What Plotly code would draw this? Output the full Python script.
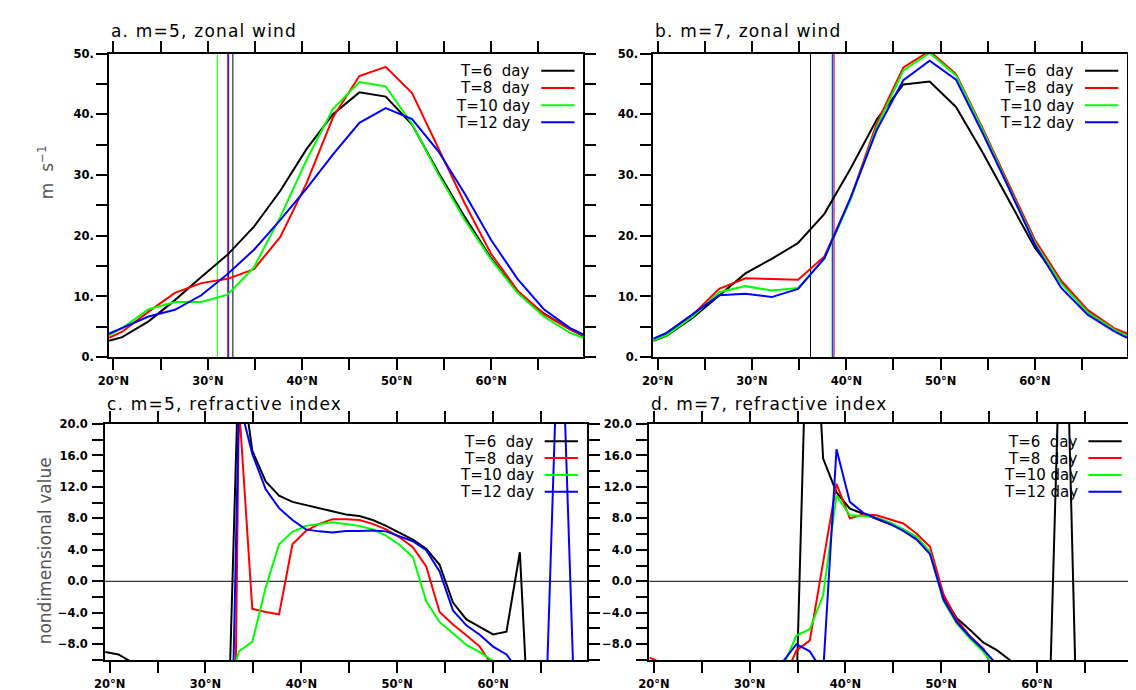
import plotly.graph_objects as go

W, H = 1136, 690

# ---------------- data ----------------
series_names = ["T=6\u00a0 day", "T=8\u00a0 day", "T=10\u00a0day", "T=12\u00a0day"]
series_colors = ["#000000", "#ff0000", "#00ff00", "#0000ff"]

# latitude grid of the zonal-wind panels (Gaussian grid, ends at plot edges)
lat_u = [19.534, 20.930, 23.720, 26.511, 29.302, 32.092, 34.883, 37.674, 40.464, 43.255,
         46.046, 48.836, 51.627, 54.418, 57.209, 59.999, 62.790, 65.580, 68.371, 69.766]

# a. m=5 zonal wind (m s-1)
u5_t6 = [2.7, 3.3, 5.9, 9.4, 13.2, 16.9, 21.5, 27.4, 34.3, 40.0, 43.6, 42.9, 38.3, 30.4, 23.1, 16.3, 10.7, 7.2, 4.6, 3.5]
u5_t8 = [3.2, 4.2, 7.5, 10.6, 12.2, 12.9, 14.5, 19.8, 28.7, 39.5, 46.3, 47.8, 43.5, 34.4, 25.3, 17.0, 11.0, 7.1, 4.6, 3.6]
u5_t10 = [3.6, 4.8, 7.9, 9.1, 9.1, 10.3, 14.8, 23.1, 32.5, 40.9, 45.3, 44.6, 38.4, 30.1, 22.6, 16.1, 10.6, 6.7, 4.0, 3.2]
u5_t12 = [3.9, 4.8, 6.7, 7.8, 10.2, 13.7, 17.7, 22.6, 27.8, 33.4, 38.6, 41.0, 39.2, 33.9, 26.9, 19.3, 12.9, 7.9, 4.8, 3.75]

# b. m=7 zonal wind (m s-1)
u7_t6 = [2.7, 3.5, 6.5, 10.2, 13.8, 16.2, 18.8, 23.6, 31.1, 39.2, 44.9, 45.4, 41.2, 33.8, 26.0, 18.0, 12.3, 7.5, 4.6, 3.5]
u7_t8 = [2.9, 3.75, 7.0, 11.25, 13.0, 12.9, 12.75, 16.6, 26.2, 38.6, 47.7, 50.4, 46.6, 37.8, 28.4, 19.3, 12.6, 7.8, 4.8, 3.9]
u7_t10 = [2.8, 3.6, 6.7, 10.7, 11.7, 11.0, 11.4, 16.2, 26.0, 38.0, 47.2, 50.1, 46.4, 37.5, 28.1, 18.8, 12.1, 7.4, 4.6, 3.5]
u7_t12 = [3.05, 4.0, 7.1, 10.2, 10.45, 9.9, 11.25, 16.3, 26.3, 37.5, 45.6, 48.8, 45.7, 37.0, 27.9, 18.5, 11.4, 7.0, 4.3, 3.2]

# critical latitudes (vertical lines), order T=6, 8, 10, 12
crit_m5 = [32.65, 32.10, 31.00, 32.20]
crit_m7 = [36.20, 38.70, 38.48, 38.56]

# latitude grid of the refractive-index panels
lat_n = [19.534, 20.930, 22.325, 23.720, 25.116, 26.511, 27.906, 29.302, 30.697, 32.092,
         33.488, 34.883, 36.278, 37.674, 39.069, 40.464, 41.860, 43.255, 44.650, 46.046,
         47.441, 48.836, 50.232, 51.627, 53.022, 54.418, 55.813, 57.209, 58.604, 59.999,
         61.394, 62.790, 64.185, 65.580, 66.976, 68.371, 69.766]

# c. m=5 refractive index (values below -10 are off the plotted range)
n5_t6 = [-9.0, -9.3, -10.3, -12, -14, -16, -19, -23, -27, -31, 29, 16.6, 12.7, 10.9, 10.1, 9.7, 9.3, 8.9, 8.5,
         8.3, 7.8, 7.05, 6.2, 5.3, 4.15, 2.1, -2.7, -4.85, -5.8, -6.75, -6.4, 3.7, -30, -35, -40, -45, -50]
n5_t8 = [-20, -22, -24, -26, -28, -30, -35, -45, -60, -120, 22.5, -3.5, -3.9, -4.2, 4.7, 6.4, 7.3, 7.9, 7.9,
         7.8, 7.3, 6.6, 5.6, 4.35, 1.9, -3.9, -5.5, -6.85, -8.3, -10.9, -14, -17, -20, -23, -26, -29, -32]
n5_t10 = [-20, -22, -24, -26, -28, -30, -30, -25, -20, -14.8, -8.9, -7.7, -0.8, 4.7, 6.3, 7.05, 7.3, 7.5, 7.3,
          7.05, 6.6, 5.8, 4.65, 3.1, -2.5, -5.2, -6.6, -8.1, -9.0, -10.1, -13, -16, -19, -22, -25, -28, -31]
n5_t12 = [-20, -22, -24, -26, -28, -30, -35, -45, -55, -60, 23, 16.2, 11.7, 9.3, 7.8, 6.6, 6.35, 6.2, 6.4,
          6.4, 6.45, 6.35, 5.7, 5.1, 3.95, 1.25, -3.7, -5.6, -6.8, -8.3, -9.3, -11.6, -14, -13.5, 40, -11.8, -20]

# d. m=7 refractive index
n7_t6 = [-20, -22, -24, -26, -28, -30, -32, -34, -30, -25, -20, -14.2, 47.3, 15.6, 11.3, 9.25, 8.6, 8.0, 7.35,
         6.6, 5.6, 3.7, -1.9, -4.7, -6.2, -7.8, -8.75, -10.05, -13, -15, -12, 48, -20, -25, -30, -35, -40]
n7_t8 = [-9.7, -10.4, -13, -15, -17, -19, -21, -20, -18, -16, -12.7, -8.8, -7.55, 2.5, 12.4, 8.0, 8.5, 8.4, 7.9,
         7.35, 6.05, 4.4, -1.65, -4.9, -7.0, -8.6, -12.3, -15, -18, -21, -24, -27, -30, -33, -36, -39, -42]
n7_t10 = [-20, -22, -24, -26, -28, -30, -32, -30, -25, -18, -10.85, -6.9, -6.1, -1.8, 10.9, 8.4, 8.3, 8.1, 7.5,
          6.6, 5.65, 3.7, -2.5, -5.4, -7.3, -9.0, -11.2, -14, -17, -20, -23, -26, -29, -32, -35, -38, -41]
n7_t12 = [-20, -22, -24, -26, -28, -30, -32, -30, -25, -18, -10.2, -8.0, -8.9, -11.6, 16.8, 10.1, 8.7, 8.0, 7.3,
          6.4, 5.3, 3.45, -2.3, -5.2, -7.1, -8.7, -10.6, -14, -17, -20, -23, -26, -29, -32, -35, -38, -41]

x_tickvals = [20, 30, 40, 50, 60]
x_ticktext = ["20\u00b0N", "30\u00b0N", "40\u00b0N", "50\u00b0N", "60\u00b0N"]
x_minorvals = [25, 35, 45, 55, 65]
u_tickvals = [0, 10, 20, 30, 40, 50]
u_ticktext = ["0.", "10.", "20.", "30.", "40.", "50."]
u_minorvals = [5, 15, 25, 35, 45]
n_tickvals = [-8, -4, 0, 4, 8, 12, 16, 20]
n_ticktext = ["\u22128.0", "\u22124.0", "0.0", "4.0", "8.0", "12.0", "16.0", "20.0"]
n_minorvals = [-10, -6, -2, 2, 6, 10, 14, 18]
u_range = [0, 50]
n_range = [-10, 20]

panel_titles = ["a. m=5, zonal wind", "b. m=7, zonal wind", "c. m=5, refractive index", "d. m=7, refractive index"]

# ---------------- layout geometry (pixels) ----------------
panels = [  # (x0, x1, ytop, ybottom)
    (92, 576.5, 39.3, 349.3),
    (648, 1132, 39.3, 349.3),
    (88, 580, 417.5, 658.3),
    (644, 1135.5, 417.5, 658.3),
]

FONT = "DejaVu Sans"

fig = go.Figure()

wind_sets = [[u5_t6, u5_t8, u5_t10, u5_t12], [u7_t6, u7_t8, u7_t10, u7_t12]]
crit_sets = [crit_m5, crit_m7]
ri_sets = [[n5_t6, n5_t8, n5_t10, n5_t12], [n7_t6, n7_t8, n7_t10, n7_t12]]

def axname(i):
    return ("x" if i == 0 else f"x{i+1}"), ("y" if i == 0 else f"y{i+1}")

# zonal wind panels
for p in range(2):
    xa, ya = axname(p)
    for s in range(4):
        fig.add_trace(go.Scatter(x=[crit_sets[p][s], crit_sets[p][s]], y=u_range,
                                 mode="lines", line=dict(color=series_colors[s], width=1),
                                 xaxis=xa, yaxis=ya, hoverinfo="skip"))
    for s in range(4):
        fig.add_trace(go.Scatter(x=lat_u, y=wind_sets[p][s], mode="lines", name=series_names[s],
                                 line=dict(color=series_colors[s], width=2), xaxis=xa, yaxis=ya))

# refractive index panels
for p in range(2):
    xa, ya = axname(p + 2)
    for s in range(4):
        fig.add_trace(go.Scatter(x=lat_n, y=ri_sets[p][s], mode="lines", name=series_names[s],
                                 line=dict(color=series_colors[s], width=2), xaxis=xa, yaxis=ya))

TICKLEN = 11
common = dict(showline=True, linecolor="black", linewidth=2, mirror="ticks", ticks="outside",
              ticklen=TICKLEN, tickwidth=1.5, tickcolor="black", showgrid=False, zeroline=False,
              tickfont=dict(family=FONT, size=11.5, color="black", weight="bold"))

def minor(vals):
    return dict(tickmode="array", tickvals=vals, ticks="outside", ticklen=TICKLEN,
                tickwidth=1.5, tickcolor="black", showgrid=False)

layout = dict(width=W, height=H, margin=dict(l=0, r=0, t=0, b=0), autosize=False,
              paper_bgcolor="white", plot_bgcolor="white", showlegend=False)

for i, (x0, x1, yt, yb) in enumerate(panels):
    xk = "xaxis" if i == 0 else f"xaxis{i+1}"
    yk = "yaxis" if i == 0 else f"yaxis{i+1}"
    xa, ya = axname(i)
    layout[xk] = dict(domain=[x0 / W, x1 / W], anchor=ya, range=[lat_u[0], lat_u[-1]],
                      tickmode="array", tickvals=x_tickvals, ticktext=x_ticktext,
                      minor=minor(x_minorvals), ticklabelstandoff=1, **common)
    if i < 2:
        layout[yk] = dict(domain=[1 - yb / H, 1 - yt / H], anchor=xa, range=u_range,
                          tickmode="array", tickvals=u_tickvals, ticktext=u_ticktext,
                          minor=minor(u_minorvals), **common)
    else:
        layout[yk] = dict(domain=[1 - yb / H, 1 - yt / H], anchor=xa, range=n_range,
                          tickmode="array", tickvals=n_tickvals, ticktext=n_ticktext,
                          minor=minor(n_minorvals), ticklabelstandoff=2, **common)

fig.update_layout(**layout)

annotations = []
shapes = []
# panel titles
title_y = [16.5, 16.5, 397.0, 397.0]
for i, (x0, x1, yt, yb) in enumerate(panels):
    annotations.append(dict(text='<span style="letter-spacing:1.2px">' + panel_titles[i] + "</span>",
                            x=(x0 - 0.5) / W, y=1 - title_y[i] / H, xref="paper", yref="paper",
                            xanchor="left", yanchor="middle", showarrow=False,
                            font=dict(family=FONT, size=17, color="black")))

# legends (text right-aligned, sample line to the right)
leg_rows = [[57, 74.5, 92, 109.5], [57, 74.5, 92, 109.5], [435, 452.3, 469.5, 486.7], [435, 452.3, 469.5, 486.7]]
for i, (x0, x1, yt, yb) in enumerate(panels):
    for s in range(4):
        yr = leg_rows[i][s]
        annotations.append(dict(text=series_names[s], x=(x1 - 52) / W, y=1 - (yr + 0.5) / H,
                                xref="paper", yref="paper", xanchor="right", yanchor="middle",
                                showarrow=False, font=dict(family=FONT, size=15, color="black")))
        shapes.append(dict(type="line", xref="paper", yref="paper",
                           x0=(x1 - 43) / W, x1=(x1 - 9) / W, y0=1 - yr / H, y1=1 - yr / H,
                           line=dict(color=series_colors[s], width=2)))

# zero lines in refractive-index panels
for i in (2, 3):
    xa, ya = axname(i)
    shapes.append(dict(type="line", xref=f"{xa} domain", yref=ya, x0=0, x1=1, y0=0, y1=0,
                       line=dict(color="black", width=1), layer="below"))

# y-axis titles
annotations.append(dict(text="m\u00a0 s<sup>\u22121</sup>", x=27 / W, y=1 - 160 / H, xref="paper", yref="paper",
                        xanchor="center", yanchor="middle", textangle=-90, showarrow=False,
                        font=dict(family=FONT, size=17, color="#555555")))
annotations.append(dict(text="nondimensional value", x=26 / W, y=1 - 547 / H, xref="paper", yref="paper",
                        xanchor="center", yanchor="middle", textangle=-90, showarrow=False,
                        font=dict(family=FONT, size=17, color="#555555")))

fig.update_layout(annotations=annotations, shapes=shapes)

fig.write_html("out.html")
